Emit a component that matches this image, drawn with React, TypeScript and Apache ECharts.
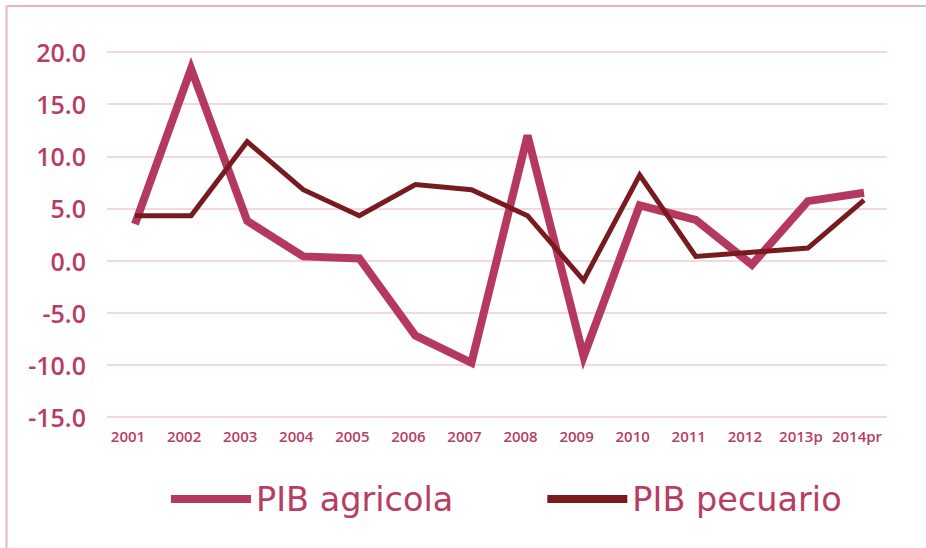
import React, { useEffect, useRef } from "react";
import * as echarts from "echarts";

const categories = ["2001", "2002", "2003", "2004", "2005", "2006", "2007", "2008", "2009", "2010", "2011", "2012", "2013p", "2014pr"];
const pibAgricola = [3.5, 18.4, 3.8, 0.4, 0.2, -7.2, -9.8, 12.0, -9.2, 5.3, 3.9, -0.4, 5.7, 6.5];
const pibPecuario = [4.3, 4.3, 11.4, 6.8, 4.3, 7.3, 6.8, 4.3, -1.9, 8.2, 0.4, 0.8, 1.2, 5.8];
const seriesNames = ["PIB agricola", "PIB pecuario"];
const yMin = -15;
const yMax = 20;
const yInterval = 5;

const PINK = "#b5395e";
const DARK = "#781b20";
const TEXT = "#b83d63";
const GRID = "#f2d9df";
const BORDER = "#e8b6c2";
const FONT = "'Open Sans', 'Liberation Sans', sans-serif";
const LEGEND_FONT = "'DejaVu Sans', 'Open Sans', sans-serif";

export default function App() {
  const ref = useRef<HTMLDivElement>(null);
  useEffect(() => {
    if (!ref.current) return;
    const chart = echarts.init(ref.current, null, { renderer: "svg" });
    const yCommon = {
      type: "value" as const,
      min: yMin,
      max: yMax,
      interval: yInterval,
    };
    chart.setOption({
      animation: false,
      backgroundColor: "#ffffff",
      grid: [
        { left: 107, right: 39, top: 52, bottom: 131, containLabel: false },
        { left: 135, right: 62, top: 52, bottom: 131, containLabel: false },
      ],
      xAxis: [
        {
          type: "value",
          gridIndex: 0,
          min: 0,
          max: 1,
          show: false,
        },
        {
          type: "category",
          gridIndex: 1,
          data: categories,
          boundaryGap: false,
          axisLine: { show: false },
          axisTick: { show: false },
          splitLine: { show: false },
          axisLabel: {
            interval: 0,
            margin: 11,
            color: TEXT,
            fontFamily: FONT,
            fontSize: 15,
            fontWeight: 600,
            padding: [0, 14, 0, 0],
          },
        },
      ],
      yAxis: [
        {
          ...yCommon,
          gridIndex: 0,
          axisLine: { show: false },
          axisTick: { show: false },
          splitLine: { show: true, lineStyle: { color: GRID, width: 2 } },
          axisLabel: {
            margin: 21,
            color: TEXT,
            fontFamily: FONT,
            fontSize: 25,
            fontWeight: 600,
            formatter: (v: number) => v.toFixed(1),
          },
        },
        {
          ...yCommon,
          gridIndex: 1,
          show: false,
          splitLine: { show: false },
        },
      ],
      legend: {
        data: seriesNames,
        left: 171,
        top: 482,
        padding: 0,
        icon: "rect",
        itemWidth: 80,
        itemHeight: 8,
        itemGap: 94,
        textStyle: {
          color: TEXT,
          fontFamily: LEGEND_FONT,
          fontSize: 33.5,
          fontWeight: 400,
        },
      },
      graphic: [
        {
          type: "line",
          shape: { x1: 6.5, y1: 6, x2: 926, y2: 6 },
          style: { stroke: BORDER, lineWidth: 2 },
        },
        {
          type: "line",
          shape: { x1: 6.5, y1: 6, x2: 6.5, y2: 548 },
          style: { stroke: BORDER, lineWidth: 2 },
        },
      ],
      series: [
        {
          name: seriesNames[0],
          type: "line",
          xAxisIndex: 1,
          yAxisIndex: 1,
          data: pibAgricola,
          showSymbol: false,
          symbol: "none",
          color: PINK,
          lineStyle: { color: PINK, width: 8, join: "miter", cap: "butt" },
          z: 2,
        },
        {
          name: seriesNames[1],
          type: "line",
          xAxisIndex: 1,
          yAxisIndex: 1,
          data: pibPecuario,
          showSymbol: false,
          symbol: "none",
          color: DARK,
          lineStyle: { color: DARK, width: 5, join: "miter", cap: "butt" },
          z: 3,
        },
      ],
    });
    return () => chart.dispose();
  }, []);
  return (
    <div
      ref={ref}
      style={{ position: "absolute", left: 0, top: 0, width: 926, height: 548 }}
    />
  );
}
